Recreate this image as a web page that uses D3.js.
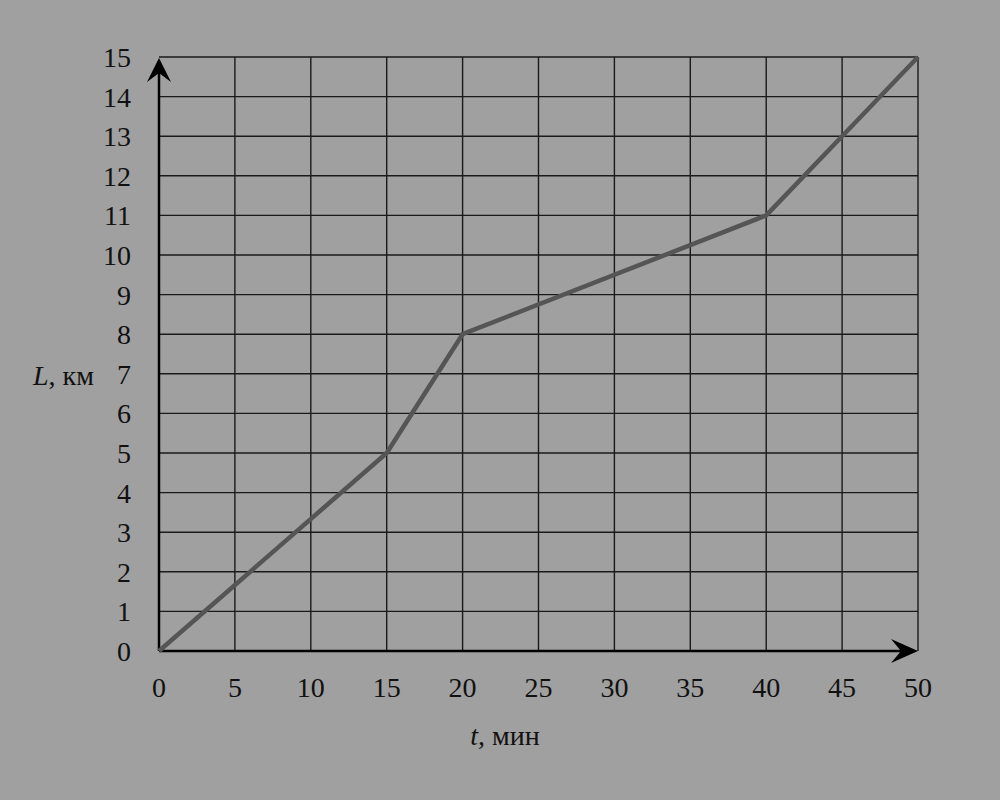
<!DOCTYPE html>
<html>
<head>
<meta charset="utf-8">
<script src="https://cdn.jsdelivr.net/npm/d3@7"></script>
<style>
    html, body { margin: 0; padding: 0; background: #a0a0a0; }
    svg { display: block; font-family: 'Liberation Serif', 'DejaVu Serif', serif; }
</style>
</head>
<body>
<div class="chart"></div>
<script>
    /* data */
    const timeMin = [0, 15, 20, 40, 45, 50];
    const distKm = [0, 5, 8, 11, 13, 15];
    const xTicks = d3.range(0, 55, 5);
    const yTicks = d3.range(0, 16, 1);

    const W = 1000, H = 800;
    const margin = { top: 57, left: 159, right: 82, bottom: 149 };
    const width = W - margin.left - margin.right;
    const height = H - margin.top - margin.bottom;

    const svg = d3.select('.chart').append('svg')
        .attr('width', W).attr('height', H);

    svg.append('rect').attr('width', W).attr('height', H).attr('fill', '#a0a0a0');

    const plot = svg.append('g')
        .attr('transform', 'translate(' + margin.left + ',' + margin.top + ')');

    const x = d3.scaleLinear().domain([0, 50]).range([0, width]);
    const y = d3.scaleLinear().domain([0, 15]).range([height, 0]);

    /* grid */
    plot.selectAll('.vgrid').data(xTicks.slice(1)).enter().append('line')
        .attr('x1', d => x(d)).attr('x2', d => x(d))
        .attr('y1', 0).attr('y2', height)
        .attr('stroke', '#1a1a1a').attr('stroke-width', 1.4);
    plot.selectAll('.hgrid').data(yTicks.slice(1)).enter().append('line')
        .attr('x1', 0).attr('x2', width)
        .attr('y1', d => y(d)).attr('y2', d => y(d))
        .attr('stroke', '#1a1a1a').attr('stroke-width', 1.4);

    /* axes */
    plot.append('line').attr('x1', 0).attr('x2', width - 4)
        .attr('y1', height).attr('y2', height)
        .attr('stroke', '#000').attr('stroke-width', 2.5);
    plot.append('line').attr('x1', 0).attr('x2', 0)
        .attr('y1', height).attr('y2', 4)
        .attr('stroke', '#000').attr('stroke-width', 2.5);

    // arrow heads
    plot.append('path')
        .attr('d', 'M' + width + ',' + height + ' L' + (width - 27) + ',' + (height - 12) +
            ' L' + (width - 17) + ',' + height + ' L' + (width - 27) + ',' + (height + 12) + 'Z')
        .attr('fill', '#000');
    plot.append('path')
        .attr('d', 'M0,1 L-12,' + 25 + ' L0,' + 16 + ' L12,' + 25 + 'Z')
        .attr('fill', '#000');

    /* tick labels */
    svg.append('g').selectAll('text').data(xTicks).enter().append('text')
        .attr('x', d => margin.left + x(d))
        .attr('y', margin.top + height + 46)
        .attr('text-anchor', 'middle')
        .attr('font-size', 28).attr('fill', '#111')
        .text(d => d);
    svg.append('g').selectAll('text').data(yTicks).enter().append('text')
        .attr('x', margin.left - 28)
        .attr('y', d => margin.top + y(d) + 10)
        .attr('text-anchor', 'end')
        .attr('font-size', 28).attr('fill', '#111')
        .text(d => d);

    /* axis titles */
    const yt = svg.append('text').attr('x', 33).attr('y', 385)
        .attr('font-size', 28).attr('fill', '#111');
    yt.append('tspan').attr('font-style', 'italic').text('L');
    yt.append('tspan').text(', км');

    const xt = svg.append('text').attr('x', 505).attr('y', 745)
        .attr('text-anchor', 'middle')
        .attr('font-size', 28).attr('fill', '#111');
    xt.append('tspan').attr('font-style', 'italic').text('t');
    xt.append('tspan').text(', мин');

    /* line */
    const pts = timeMin.map((t, i) => [t, distKm[i]]);
    plot.append('path').datum(pts)
        .attr('d', d3.line().x(d => x(d[0])).y(d => y(d[1])))
        .attr('fill', 'none')
        .attr('stroke', '#555')
        .attr('stroke-width', 4.5)
        .attr('stroke-linejoin', 'round');
</script>
</body>
</html>
